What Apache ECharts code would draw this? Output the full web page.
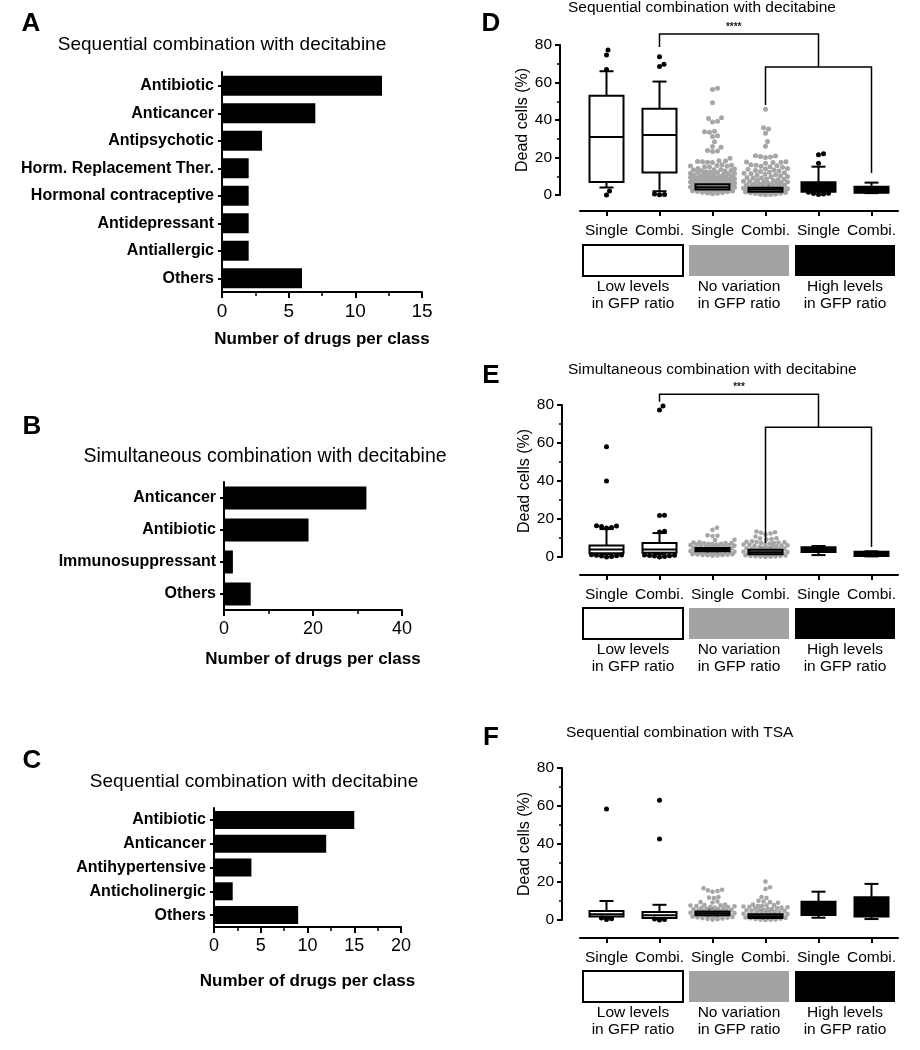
<!DOCTYPE html>
<html><head><meta charset="utf-8">
<script src="https://cdn.jsdelivr.net/npm/echarts/dist/echarts.min.js"></script>
<style>html,body{margin:0;padding:0;background:#fff}#c{width:920px;height:1050px}</style>
</head><body><div id="c"></div>
<script>
// ---------------- DATA ----------------
const aCats = ['Antibiotic','Anticancer','Antipsychotic','Horm. Replacement Ther.','Hormonal contraceptive','Antidepressant','Antiallergic','Others'];
const aVals = [12,7,3,2,2,2,2,6];
const bCats = ['Anticancer','Antibiotic','Immunosuppressant','Others'];
const bVals = [32,19,2,6];
const cCats = ['Antibiotic','Anticancer','Antihypertensive','Anticholinergic','Others'];
const cVals = [15,12,4,2,9];

const boxCats = ['Single','Combi.','Single','Combi.','Single','Combi.'];
const groupLabels = ['Low levels\nin GFP ratio','No variation\nin GFP ratio','High levels\nin GFP ratio'];

// [min, Q1, median, Q3, max] per column
const dBoxes = [[4,7,31,53,66],[2,12,32,46,60.5],[2,3,4.1,5.7,7],[1.5,1.8,2.9,3.9,5],[1.8,1.8,4,6.8,15.1],[1,1.2,2.5,4.4,6.6]];
const eBoxes = [[1.5,2,4,6,14.7],[1.5,2.3,4,7.4,12.6],[2,3,3.8,4.8,6],[1,1.5,2.5,3.8,5],[1,2.6,4,5.1,5.8],[0.3,0.5,1.5,2.8,3]];
const fBoxes = [[1,1.8,3,4.7,10],[0.8,1,2.5,4.2,8],[2,2.5,3.5,4.5,6],[0.5,1,2,3,5],[1.2,2.6,6,9.6,14.9],[0.5,1.8,6,12,19]];

const dOutliers = [[77.3,74.7,67,2.2,0],[73.8,69.7,68.5,0.5,0.3,0.2],[],[],[22,21.5,17,1.5,0.8,0.5,1.0,0.3],[]];
const eOutliers = [[58,40,16.5,16.3,16,15.5,15.2,1.2,0.9,0.6,0.3,0,0.5,1.0],[79.5,77.4,22,21.8,13.5,13.2,1.1,0.8,0.5,0.2,0,0.6,0.9],[],[],[],[]];
const fOutliers = [[58.4,0.2,0.6,1.0],[63,42.6,0,0.3,0.5],[],[],[],[]];

const dGraySingle = [56.9,56.3,49.2,41.2,40.8,39.4,39.0,34.0,33.7,33.5,31.6,31.2,28.4,25.9,25.5,23.8,23.5,23.2,19.6,
18.3,18.1,17.9,17.8,17.5,17.4,16.1,15.9,15.8,15.5,15.3,15.1,14.9,
14.1,13.9,13.6,13.5,13.3,13.1,12.9,12.8,12.4,12.2,12.0,11.9,11.6,11.5,11.3,11.1,10.9,
10.8,10.6,10.4,10.3,10.1,9.9,9.8,9.6,9.5,9.4,9.2,9.1,8.9,8.8,8.6,8.5,8.4,8.2,8.1,7.9,
7.8,7.7,7.5,7.4,7.3,7.1,7.0,6.9,6.8,6.7,6.5,6.4,6.3,6.1,6.0,5.9,5.8,5.7,5.5,
5.3,5.1,4.9,4.7,4.5,4.3,4.1,3.9,3.7,3.5,3.3,3.1,2.9,2.7,2.5,2.3,2.1,1.9,1.7,1.5,1.3,1.1,0.9,0.7];
const dGrayCombi = [45.7,35.9,35.2,33.0,28.5,26.0,21.0,20.8,20.5,20.3,20.0,17.8,17.6,17.5,17.3,17.0,
16.2,15.9,15.6,15.4,15.1,14.8,14.2,13.9,13.7,13.4,13.1,12.8,12.6,12.2,11.9,11.6,11.4,11.1,10.8,10.5,10.3,
9.9,9.7,9.4,9.1,8.9,8.6,8.4,8.1,7.9,7.7,7.4,7.2,7.0,6.8,6.6,6.4,6.2,6.0,5.8,5.6,5.4,5.2,5.0,4.8,
4.6,4.4,4.2,4.0,3.8,3.6,3.4,3.2,3.0,2.8,2.6,2.4,2.2,2.0,1.8,1.6,1.4,1.2,1.0,0.8,0.6,0.4,0.3,0.1];
const eGraySingle = [15.4,14.3,11.4,11.2,11.0,9.1,8.9,7.7,7.6,7.4,7.3,7.2,7.0,6.9,6.8,
6.6,6.5,6.3,6.2,6.0,5.9,5.7,5.6,5.4,5.2,5.0,4.8,4.6,4.4,4.2,4.0,3.8,3.6,3.4,3.2,3.0,2.8,2.6,
2.4,2.3,2.1,2.0,1.9,1.7,1.6,1.5,1.4,1.3,1.2,1.1,1.0,0.9,0.8,0.7];
const eGrayCombi = [13.4,13.0,12.7,12.4,11.9,10.8,9.9,9.7,9.4,9.2,8.2,8.0,7.9,7.7,7.6,7.4,7.3,7.1,
6.8,6.6,6.4,6.2,6.0,5.8,5.6,5.4,5.2,5.0,4.8,4.6,4.4,4.2,4.0,3.8,3.6,3.4,3.2,3.0,2.8,
2.6,2.4,2.2,2.0,1.8,1.6,1.4,1.2,1.0,0.9,0.8,0.6,0.5,0.4,0.3,0.2,0.1,0.0];
const fGraySingle = [16.7,15.9,15.6,15.3,14.9,12.1,11.8,11.5,9.7,9.4,9.2,8.1,7.9,7.8,7.6,7.4,7.2,7.0,
6.8,6.6,6.4,6.2,6.0,5.8,5.6,5.4,5.2,5.0,4.8,4.6,4.4,4.2,4.0,3.8,3.6,3.4,3.2,3.0,2.8,2.6,
2.4,2.2,2.0,1.8,1.6,1.4,1.2,1.0,0.8,0.6,0.4,0.2];
const fGrayCombi = [20.2,17.2,16.3,12.1,11.6,10.1,9.7,9.4,9.1,8.1,7.9,7.7,7.5,7.3,7.1,6.9,
6.7,6.5,6.3,6.1,5.9,5.7,5.5,5.3,5.1,4.9,4.7,4.5,4.3,4.1,3.9,3.7,3.5,3.3,3.1,2.9,2.7,
2.5,2.3,2.1,1.9,1.7,1.5,1.3,1.1,0.9,0.7,0.5,0.3,0.2,0.1,0.0];

// significance brackets: [column index, value]
const dBracketTop = [[1,78.9],[1,85.9],[4,85.9],[4,68.3]];
const dBracketLow = [[3,48],[3,68.3],[5,68.3],[5,11.7]];
const dStars = {text:'****', pos:[2.4,89.6]};
const eBracketTop = [[1,81.7],[1,85.6],[4,85.6],[4,68.3]];
const eBracketLow = [[3,7.4],[3,68.3],[5,68.3],[5,5.3]];
const eStars = {text:'***', pos:[2.5,89.5]};

// ---------------- STYLE / LAYOUT ----------------
const FONT = '"Liberation Sans", Arial, sans-serif';
const colStyle = ['white','white','gray','gray','black','black'];
const GRAY = '#a6a6a6';
const BAND = 53;

function swarm(values, pxPerUnit, dia, maxHalf) {
  const sorted = values.slice().sort((a,b)=>a-b);
  const placed = [], out = [];
  for (const v of sorted) {
    const y = v * pxPerUnit;
    let best = 0, bestScore = -1;
    for (let k = 0; k <= maxHalf * 4; k++) {
      const off = (k % 2 === 1 ? 1 : -1) * Math.ceil(k / 2) * 0.5;
      let minD = Infinity;
      for (const p of placed) {
        const dy = p[1] - y;
        if (Math.abs(dy) >= dia) continue;
        const dd = Math.hypot(p[0] - off, dy);
        if (dd < minD) minD = dd;
      }
      if (minD >= dia) { best = off; bestScore = Infinity; break; }
      if (minD > bestScore) { bestScore = minD; best = off; }
    }
    placed.push([best, y]);
    out.push([best / BAND, v]);
  }
  return out;
}

const grids = [
  {left:222, top:72, width:200, height:220},
  {left:224, top:482, width:178, height:128},
  {left:214, top:808, width:187, height:119},
  {left:580, top:45, width:318, height:150},
  {left:580, top:405, width:318, height:152},
  {left:580, top:768, width:318, height:152}
].map(g => Object.assign({outerBoundsMode:'none', containLabel:false}, g));

function barX(gi, max, interval, minorSplit, nameGap, labelSize) {
  return {gridIndex:gi, type:'value', min:0, max:max, interval:interval,
    axisLine:{show:true, onZero:false, lineStyle:{color:'#000', width:2}},
    axisTick:{show:true, length:6, lineStyle:{color:'#000', width:2}},
    minorTick:{show:true, splitNumber:minorSplit, length:4, lineStyle:{color:'#000', width:1.5}},
    splitLine:{show:false}, minorSplitLine:{show:false},
    axisLabel:{fontSize:labelSize, color:'#000', margin:10, fontFamily:FONT},
    name:'Number of drugs per class', nameLocation:'middle', nameGap:nameGap,
    nameTextStyle:{fontSize:17, fontWeight:'bold', color:'#000', fontFamily:FONT}};
}
function barY(gi, cats) {
  return {gridIndex:gi, type:'category', data:cats, inverse:true,
    axisLine:{show:true, onZero:false, lineStyle:{color:'#000', width:2}},
    axisTick:{show:true, alignWithLabel:true, length:4, lineStyle:{color:'#000', width:2}},
    axisLabel:{fontSize:16, fontWeight:'bold', color:'#000', margin:8, interval:0, fontFamily:FONT}};
}
function boxXCat(gi, off) {
  return {gridIndex:gi, type:'category', data:boxCats, offset:off,
    axisLine:{show:true, onZero:false, lineStyle:{color:'#000', width:2}},
    axisTick:{show:true, alignWithLabel:true, length:5, lineStyle:{color:'#000', width:2}},
    axisLabel:{fontSize:15.5, color:'#000', margin:12, interval:0, fontFamily:FONT}};
}
function boxXVal(gi) {
  return {gridIndex:gi, type:'value', min:-0.5, max:5.5, show:false};
}
function boxY(gi, off) {
  return {gridIndex:gi, type:'value', min:0, max:80, interval:20, offset:off,
    axisLine:{show:true, onZero:false, lineStyle:{color:'#000', width:2}},
    axisTick:{show:true, length:5, lineStyle:{color:'#000', width:2}},
    minorTick:{show:true, splitNumber:2, length:3, lineStyle:{color:'#000', width:1.5}},
    splitLine:{show:false}, minorSplitLine:{show:false},
    axisLabel:{fontSize:15.5, color:'#000', margin:8, fontFamily:FONT},
    name:'Dead cells (%)', nameLocation:'middle', nameGap:23,
    nameTextStyle:{fontSize:16, color:'#000', fontFamily:FONT}};
}

const xAxis = [barX(0,15,5,2,39,19), barX(1,40,20,2,41,18), barX(2,20,5,2,46,18),
  boxXCat(3,16), boxXVal(3), boxXCat(4,18), boxXVal(4), boxXCat(5,18), boxXVal(5)];
const yAxis = [barY(0,aCats), barY(1,bCats), barY(2,cCats), boxY(3,20), boxY(4,18), boxY(5,18)];

const series = [
  {type:'bar', xAxisIndex:0, yAxisIndex:0, data:aVals, barWidth:20, itemStyle:{color:'#000'}, silent:true},
  {type:'bar', xAxisIndex:1, yAxisIndex:1, data:bVals, barWidth:23, itemStyle:{color:'#000'}, silent:true},
  {type:'bar', xAxisIndex:2, yAxisIndex:2, data:cVals, barWidth:18, itemStyle:{color:'#000'}, silent:true}
];

function boxPanel(p) {
  const out = [];
  // whiskers
  out.push({type:'custom', xAxisIndex:p.xv, yAxisIndex:p.y, z:2, clip:false, silent:true,
    data:p.boxes.map((b,i)=>[i,b[0],b[4]]),
    renderItem:(params, api)=>{
      const i = params.dataIndex, b = p.boxes[i];
      const x = api.coord([i,0])[0]; const Y = v => api.coord([i,v])[1];
      const st = {stroke:'#000', lineWidth:2};
      return {type:'group', children:[
        {type:'line', shape:{x1:x,y1:Y(b[3]),x2:x,y2:Y(b[4])}, style:st},
        {type:'line', shape:{x1:x,y1:Y(b[1]),x2:x,y2:Y(b[0])}, style:st},
        {type:'line', shape:{x1:x-7,y1:Y(b[4]),x2:x+7,y2:Y(b[4])}, style:st},
        {type:'line', shape:{x1:x-7,y1:Y(b[0]),x2:x+7,y2:Y(b[0])}, style:st}
      ]};
    }});
  // gray swarm dots
  const grayData = [];
  swarm(p.grayS, p.ppu, p.dia, 22).forEach(d => grayData.push([2 + d[0], d[1]]));
  swarm(p.grayC, p.ppu, p.dia, 22).forEach(d => grayData.push([3 + d[0], d[1]]));
  out.push({type:'scatter', xAxisIndex:p.xv, yAxisIndex:p.y, z:3, silent:true, symbolSize:p.dia,
    itemStyle:{color:GRAY, opacity:1}, data:grayData});
  // boxes
  out.push({type:'custom', xAxisIndex:p.xv, yAxisIndex:p.y, z:4, clip:false, silent:true,
    data:p.boxes.map((b,i)=>[i,b[1],b[3]]),
    renderItem:(params, api)=>{
      const i = params.dataIndex, b = p.boxes[i], s = colStyle[i];
      const x = api.coord([i,0])[0]; const Y = v => api.coord([i,v])[1];
      const fill = s === 'white' ? '#fff' : (s === 'gray' ? '#9a9a9a' : '#000');
      return {type:'group', children:[
        {type:'rect', shape:{x:x-17, y:Y(b[3]), width:34, height:Y(b[1])-Y(b[3])}, style:{fill:fill, stroke:'#000', lineWidth:2}},
        {type:'line', shape:{x1:x-17,y1:Y(b[2]),x2:x+17,y2:Y(b[2])}, style:{stroke:'#000', lineWidth:2}}
      ]};
    }});
  // outliers
  const outData = [];
  p.outliers.forEach((arr, i) => swarm(arr, p.ppu, 5, 22).forEach(d => outData.push([i + d[0], d[1]])));
  out.push({type:'scatter', xAxisIndex:p.xv, yAxisIndex:p.y, z:5, silent:true, symbolSize:5,
    itemStyle:{color:'#000', opacity:1}, data:outData});
  // group legend blocks
  out.push({type:'custom', xAxisIndex:p.xv, yAxisIndex:p.y, z:5, clip:false, silent:true,
    data:[[0,0],[1,0],[2,0]],
    renderItem:(params, api)=>{
      const k = params.dataIndex;
      const x0 = api.coord([2*k-0.5,0])[0] + 3, x1 = api.coord([2*k+1.5,0])[0] - 3;
      const y0 = api.coord([0,0])[1];
      const fills = ['#fff','#a3a3a6','#000'];
      return {type:'group', children:[
        {type:'rect', shape:{x:x0, y:y0+p.rectOff, width:x1-x0, height:31},
          style:{fill:fills[k], stroke: k===0 ? '#000' : null, lineWidth:2}},
        {type:'text', x:(x0+x1)/2, y:y0+p.rectOff+50,
          style:{text:groupLabels[k], fontSize:15.5, fontFamily:FONT, fill:'#000', align:'center', verticalAlign:'middle', lineHeight:17}}
      ]};
    }});
  if (p.brackets) {
    out.push({type:'custom', xAxisIndex:p.xv, yAxisIndex:p.y, z:6, clip:false, silent:true,
      data:[[0,0]],
      renderItem:(params, api)=>{
        const ch = p.brackets.map(br => ({type:'polyline', shape:{points:br.map(pt=>api.coord(pt))},
          style:{stroke:'#000', lineWidth:1.5, fill:null}}));
        const sp = api.coord(p.stars.pos);
        ch.push({type:'text', x:sp[0], y:sp[1], style:{text:p.stars.text, fontSize:10, fontWeight:'bold', fontFamily:FONT, fill:'#222', align:'center', verticalAlign:'middle'}});
        return {type:'group', children:ch};
      }});
  }
  return out;
}

series.push(...boxPanel({xv:4, y:3, ppu:150/80, dia:5, boxes:dBoxes, outliers:dOutliers, grayS:dGraySingle, grayC:dGrayCombi, rectOff:50, brackets:[dBracketTop,dBracketLow], stars:dStars}));
series.push(...boxPanel({xv:6, y:4, ppu:152/80, dia:4.6, boxes:eBoxes, outliers:eOutliers, grayS:eGraySingle, grayC:eGrayCombi, rectOff:51, brackets:[eBracketTop,eBracketLow], stars:eStars}));
series.push(...boxPanel({xv:8, y:5, ppu:152/80, dia:4.6, boxes:fBoxes, outliers:fOutliers, grayS:fGraySingle, grayC:fGrayCombi, rectOff:51}));

function txt(text, x, y, size, weight, align) {
  return {type:'text', x:x, y:y, style:{text:text, fontSize:size, fontWeight:weight||'normal', fontFamily:FONT, fill:'#000', align:align||'center', verticalAlign:'middle'}};
}
const graphic = [
  txt('A',31,24,26,'bold'), txt('B',32,427,26,'bold'), txt('C',32,761,26,'bold'),
  txt('D',491,24,26,'bold'), txt('E',491,376,26,'bold'), txt('F',491,738,26,'bold'),
  txt('Sequential combination with decitabine',222,45,19),
  txt('Simultaneous combination with decitabine',265,457,19.5),
  txt('Sequential combination with decitabine',254,782,19),
  txt('Sequential combination with decitabine',568,8,15.5,'normal','left'),
  txt('Simultaneous combination with decitabine',568,370,15.5,'normal','left'),
  txt('Sequential combination with TSA',566,733,15.5,'normal','left')
];

const chart = echarts.init(document.getElementById('c'), null, {renderer:'canvas'});
chart.setOption({
  backgroundColor:'#fff', animation:false,
  textStyle:{fontFamily:FONT},
  grid:grids, xAxis:xAxis, yAxis:yAxis, series:series, graphic:graphic
});
</script></body></html>
